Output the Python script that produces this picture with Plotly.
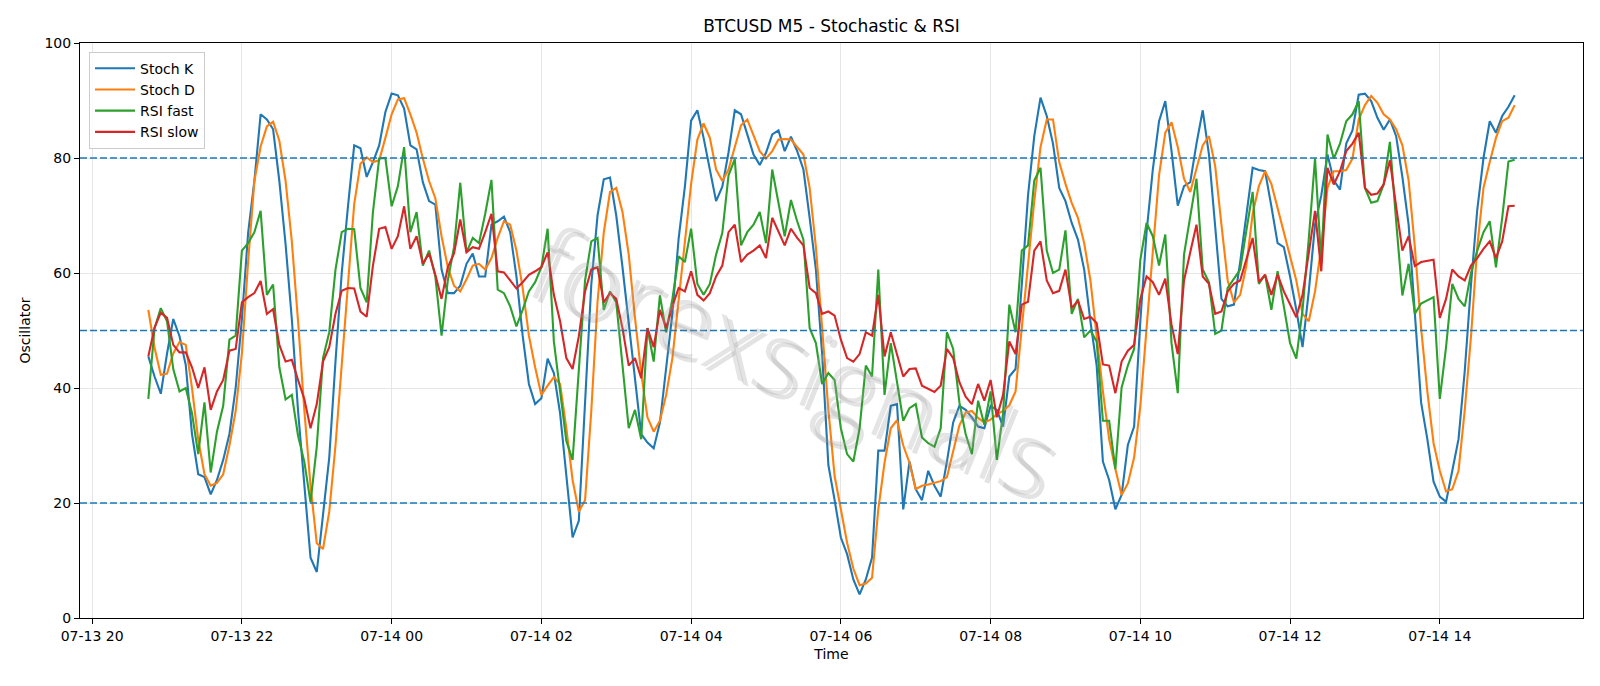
import pandas as pd
import plotly.graph_objects as go

start_time = "2025-07-13 20:45"
n_points = 220

stoch_k = [
    45.5, 42, 39, 46, 52, 49, 44, 32, 25, 24.5, 21.5, 24, 27.5, 32, 40, 52, 67, 76, 87.6, 86.7,
    85, 76, 65, 52, 36, 23, 10.5, 8, 17.6, 27.9, 44.6, 60, 71.6, 82.2, 81.7, 76.7, 79.3, 82.2, 88, 91.2,
    90.9, 88.6, 82.2, 81.5, 75.8, 72.5, 71.9, 60.6, 56.5, 56.5, 57.8, 61.6, 63.4, 59.4, 59.4, 68.4, 69, 69.8, 67.1, 59.4,
    49.1, 40.7, 37.2, 38.2, 45.1, 42.6, 35.6, 24.7, 14, 16.9, 38, 58, 70, 76.3, 76.6, 70, 61, 51, 41.5, 32,
    30.5, 29.5, 34, 43, 53, 66, 75, 86.5, 88.3, 83.5, 78, 72.5, 75, 81, 88.3, 87.6, 84.1, 80.6, 78.8, 80.9,
    84.1, 84.8, 81.2, 83.7, 81.2, 78, 69.6, 60.6, 45.9, 26.6, 20.5, 14, 11.1, 6.7, 4.1, 6.7, 10.5, 29.1, 29.1, 36.9,
    37.2, 18.9, 27.2, 22.4, 20.5, 25.6, 23, 21.1, 27.2, 34, 36.9, 36.2, 34.9, 33.3, 33, 36.9, 36.2, 33.3, 42, 43.3,
    58, 73.5, 83.8, 90.5, 87.3, 82.5, 74.8, 72.5, 68.7, 65.8, 60.6, 51.6, 43.9, 27.2, 24, 18.9, 21.4, 30.1, 33.3, 51.6,
    67.1, 78, 86.4, 89.9, 81.2, 71.7, 75.1, 75.8, 82.5, 88.3, 80.6, 68.4, 55.5, 54.2, 54.5, 61.9, 70.3, 78.3, 77.9, 77.7,
    71.6, 65.2, 64.5, 59.4, 53.6, 47.1, 56.8, 68.4, 73.5, 80.6, 76.1, 74.5, 82.5, 84.8, 91, 91.2, 89.9, 87, 84.9, 86.7,
    83.8, 76.7, 68.4, 52.9, 37.5, 31.1, 23.7, 21.1, 20.2, 25.6, 31.1, 43, 58, 71, 80, 86.4, 84.4, 87.3, 88.9, 90.9,
]

stoch_d = [
    53.6, 47, 42.3, 42.5, 46, 48, 47.5, 40, 31, 25, 23, 23.5, 25, 30, 36, 46, 62, 76, 82, 85.5,
    86.3, 83, 76, 65.5, 51.6, 36.2, 23, 13, 12, 18.5, 30, 44.5, 59, 72, 79, 80.1, 79.3, 79.6, 83.5, 87.6,
    90.2, 90.4, 87.6, 84.4, 79.9, 76, 73, 66.4, 61, 57.8, 56.8, 58.9, 61.3, 61.6, 60.6, 62.6, 66.1, 69, 68.4, 63.9,
    57.4, 49.1, 43.6, 38.8, 40.4, 41.9, 40.7, 33, 24, 18.5, 20.5, 36, 55, 67, 74.1, 74.8, 70.6, 63.2, 52.2, 42.6,
    34.9, 32.4, 34.3, 38.8, 45.2, 55.5, 66.4, 75.5, 83.2, 86, 83.5, 78, 76, 78, 81.9, 85.7, 86.7, 84.1, 81.2, 79.9,
    81.2, 83.2, 83.3, 83.2, 81.9, 80.6, 74.8, 64.5, 50.4, 36.2, 24.7, 18.9, 13.1, 8.6, 5.7, 6, 7, 18.9, 27, 33,
    34.4, 30, 27, 22.4, 23, 23.2, 23.5, 23.8, 24.5, 29, 33.5, 35.7, 36, 34.8, 34, 34.5, 35.4, 36, 37, 39.4,
    50.4, 62, 72.5, 81.9, 86.7, 86.7, 79.3, 75.5, 72.2, 69.6, 65.2, 58.7, 49.1, 39.4, 31.1, 25.9, 21.4, 23.4, 27.9, 36.9,
    50.4, 64.5, 77, 84.4, 86.2, 81.9, 76.4, 74.1, 78.3, 82.2, 83.8, 78.6, 68.4, 58.7, 54.9, 56.2, 61.3, 70.3, 75.1, 77.7,
    75.5, 71.3, 67.1, 62.9, 58.7, 52.9, 51.6, 56.8, 64.5, 74.8, 77.7, 77.7, 77.9, 79.9, 86.7, 89.2, 90.8, 89.6, 87.6, 86.7,
    85, 82.2, 76.1, 64.5, 50.4, 39.4, 30.4, 25.6, 22, 22.4, 25.6, 36.2, 49, 64.5, 74.8, 79.3, 83.5, 86.4, 87, 89.2,
]

rsi_fast = [
    38.1, 50.4, 53.9, 51.6, 43.3, 39.4, 40, 35.6, 28.5, 37.5, 25.3, 32.4, 36.9, 48.4, 49.1, 63.9, 65.2, 67.1, 70.8, 56.2,
    58, 43.6, 38, 38.8, 31.7, 27.2, 20.1, 29.8, 45.2, 49.7, 60.6, 67.1, 67.7, 67.6, 57.4, 54.9, 70.6, 79.9, 80, 71.6,
    75.1, 81.9, 67.1, 70.6, 61.3, 63.9, 59.4, 49.1, 58.7, 64.5, 75.7, 63.6, 66.1, 65.2, 70.3, 76.2, 57.1, 56.5, 54.2, 50.7,
    53.6, 56.8, 58.4, 61, 67.7, 48.1, 39.4, 30.8, 27.5, 43, 58.7, 65.5, 66.1, 53.6, 56.8, 54.9, 43.9, 33, 36.2, 31.1,
    50.4, 44.6, 56.1, 49.7, 55.5, 62.9, 61.9, 67.7, 58.1, 56.2, 58.1, 63.2, 67, 77, 79.8, 64.8, 67.1, 68.4, 70.6, 65.2,
    78, 72.2, 66.4, 72.7, 69, 65.8, 50.4, 47.8, 40.7, 42.6, 41.4, 33, 28.5, 27.2, 33, 43.9, 42, 60.6, 38.8, 47.8,
    41.4, 34.3, 36.5, 37.2, 31.4, 30.4, 29.8, 33, 49.7, 46.8, 37.5, 32, 28.5, 37.8, 33.6, 39.4, 27.5, 35.6, 54.5, 49.7,
    63.9, 64.8, 76.1, 78.3, 63.9, 60, 60.6, 67.4, 52.9, 55.5, 48.8, 50, 48.1, 34.3, 34.3, 25.9, 40.1, 43.9, 46.8, 62.3,
    68.7, 66.4, 61.3, 66.7, 47.8, 39.1, 63.2, 69.6, 76.4, 60.6, 58.4, 49.4, 50, 57.4, 59, 60.6, 67.4, 74.1, 58.1, 59.7,
    53.6, 60.3, 54.2, 47.8, 45.1, 53.6, 66, 79.9, 61.9, 84.1, 79.9, 82.5, 86.4, 87.6, 89.9, 74.8, 72.2, 72.5, 75.4, 82.8,
    69, 56.1, 61.6, 52.9, 54.7, 55.2, 55.8, 38.1, 47.1, 58.1, 55.5, 54.2, 60, 63.9, 67.1, 69, 61, 69.6, 79.4, 79.7,
]

rsi_slow = [
    45.5, 50.5, 53.1, 52.2, 47.5, 46.2, 46.2, 43.6, 40, 43.6, 36.2, 39.4, 41.4, 46.5, 46.8, 54.9, 55.8, 56.5, 58.6, 52.9,
    53.7, 47.5, 44.6, 44.9, 41.4, 38.1, 33, 37.2, 44.6, 47.1, 52.9, 56.9, 57.4, 57.3, 53.3, 52.4, 61.3, 67.7, 68, 64.2,
    66.4, 71.6, 64.2, 66.4, 61.6, 63.4, 59.7, 55.5, 61, 63.4, 69.3, 63.6, 64.5, 64.2, 67.1, 70.3, 60.3, 60.1, 58.7, 57.3,
    58.4, 59.7, 60.3, 61, 63.6, 56.2, 51.6, 45.2, 43.3, 49, 56.8, 60.6, 61, 54.9, 56.5, 55.5, 50.4, 43.9, 45.2, 41.7,
    50.4, 47.1, 53.6, 50.4, 54.2, 57.4, 56.8, 60.3, 56.2, 55.2, 56.5, 59.4, 61.3, 67.1, 68.4, 61.9, 63.2, 63.9, 64.8, 62.6,
    69.6, 67.1, 64.8, 67.7, 66.1, 64.8, 57.4, 56.5, 52.9, 53.3, 52.6, 48.4, 45.2, 44.6, 45.9, 49.7, 49.1, 56.2, 45.5, 49.7,
    45.9, 42, 43.3, 43.4, 40.4, 39.8, 39.3, 40.4, 46.8, 45.2, 41, 38.5, 37.2, 40.7, 37.8, 41.4, 34.9, 38.8, 48.1, 45.9,
    54.5, 55, 63.9, 65.5, 58.7, 56.5, 56.9, 60.6, 53.9, 55.2, 52, 52.4, 51.3, 44.1, 43.9, 39.1, 44.6, 46.5, 47.5, 55.5,
    59.4, 58.4, 56.2, 59, 51, 45.9, 58.7, 63.6, 68.4, 59.4, 58.1, 52.9, 53.3, 56.8, 58.1, 58.7, 62.3, 66.1, 58.4, 59.7,
    56.2, 59.7, 56.8, 54.5, 52.3, 56.2, 63.2, 70.8, 60.3, 78.3, 75.4, 77.7, 81.2, 82.5, 84.4, 74.8, 73.6, 73.8, 75.4, 79.6,
    71.6, 63.9, 66.4, 61.2, 61.9, 62.1, 62.3, 52.2, 55.5, 60.6, 59.4, 58.7, 61.3, 62.6, 64.2, 65.5, 62.6, 65.5, 71.6, 71.7,
]

levels = [20, 50, 80]
y_ticks = [0, 20, 40, 60, 80, 100]
title_text = "BTCUSD M5 - Stochastic & RSI"
watermark_text = "forexsignals"

times = pd.date_range(start_time, periods=n_points, freq="5min")

colors = ["#1f77b4", "#ff7f0e", "#2ca02c", "#d62728"]
series = [("Stoch K", stoch_k), ("Stoch D", stoch_d), ("RSI fast", rsi_fast), ("RSI slow", rsi_slow)]

fig = go.Figure()
for (name, vals), col in zip(series, colors):
    fig.add_trace(go.Scatter(x=times, y=vals, mode="lines", name=name,
                             line=dict(color=col, width=2.1)))

span = times[-1] - times[0]
pad = span * 0.05
x_range = [times[0] - pad, times[-1] + pad]

for lv in levels:
    fig.add_shape(type="line", xref="paper", x0=0, x1=1, yref="y", y0=lv, y1=lv,
                  line=dict(color="#1f77b4", width=1.3, dash="7px,3px"), layer="above")

# watermark (shadow + main), thin light letters
wm_font = "Open Sans"
fig.add_annotation(text=watermark_text, xref="paper", yref="paper", x=0.479, y=0.443,
                   showarrow=False, textangle=22,
                   font=dict(family=wm_font, size=104, weight=300, color="rgba(100,100,100,0.18)"))
fig.add_annotation(text=watermark_text, xref="paper", yref="paper", x=0.476, y=0.45,
                   showarrow=False, textangle=22,
                   font=dict(family=wm_font, size=104, weight=300, color="rgba(170,170,170,0.30)"))

axis_font = dict(family="DejaVu Sans", size=14, color="black")

fig.update_layout(
    width=1600, height=686,
    margin=dict(l=80, r=17, t=43, b=68),
    paper_bgcolor="white", plot_bgcolor="white",
    font=dict(family="DejaVu Sans", size=14, color="black"),
    title=dict(text=title_text, x=0.5 * (80 + 1583) / 1600, xanchor="center",
               y=1 - 26.5 / 686, yanchor="middle", font=dict(size=17)),
    showlegend=True,
    legend=dict(x=0.006, y=0.985, xanchor="left", yanchor="top", itemwidth=40,
                bgcolor="rgba(255,255,255,0.8)", bordercolor="#cccccc", borderwidth=1,
                font=dict(size=14)),
)

fig.update_xaxes(
    type="date", range=x_range, tick0="2025-07-13 20:00", dtick=7200000,
    tickformat="%m-%d %H", showgrid=True, gridcolor="#e6e6e6", gridwidth=1,
    showline=True, linecolor="black", linewidth=1.1, mirror=True,
    ticks="outside", ticklen=5, tickwidth=1.1, tickcolor="black",
    title=dict(text="Time", standoff=6, font=axis_font), zeroline=False,
)
fig.update_yaxes(
    range=[0, 100], tickvals=y_ticks, showgrid=True, gridcolor="#e6e6e6", gridwidth=1,
    showline=True, linecolor="black", linewidth=1.1, mirror=True,
    ticks="outside", ticklen=5, tickwidth=1.1, tickcolor="black",
    title=dict(text="Oscillator", standoff=10, font=axis_font), zeroline=False,
)

fig.write_html("out.html")
